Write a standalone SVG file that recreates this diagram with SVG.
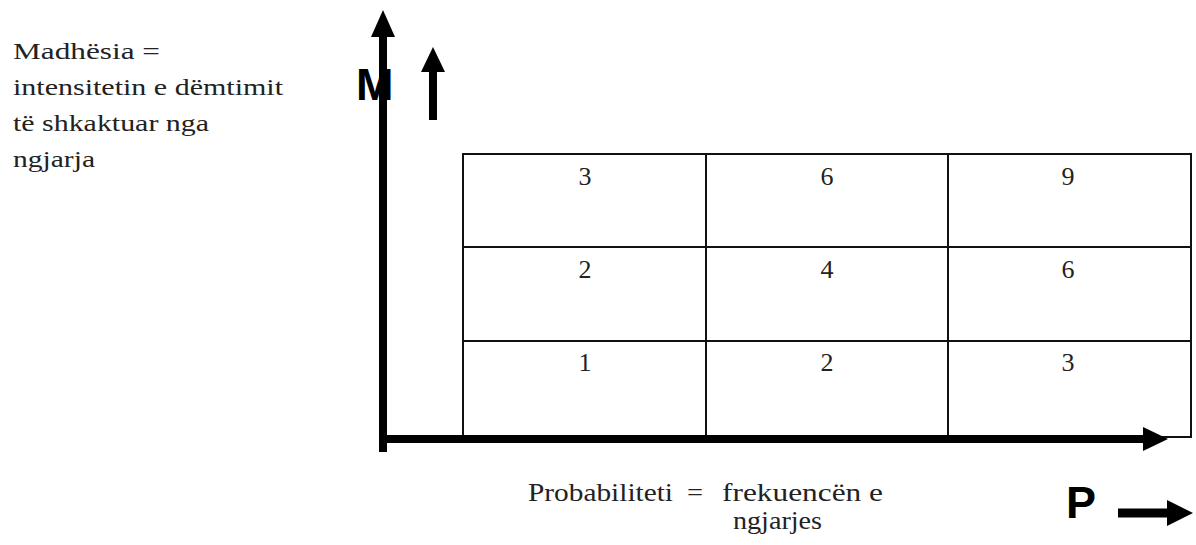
<svg xmlns="http://www.w3.org/2000/svg" width="1196" height="545" viewBox="0 0 1196 545">
<style>
.t{font-family:"Liberation Serif","Times New Roman",serif;fill:#222}
.lbl{font-size:24px}
.pl{font-size:25px}
.num{font-size:26px;text-anchor:middle}
.big{font-family:"Liberation Sans",Arial,sans-serif;font-weight:bold;font-size:45px;fill:#000}
.grid{fill:none;stroke:#111;stroke-width:2}
.ax{stroke:#000;fill:none}
.hd{fill:#000}
</style>
<rect width="1196" height="545" fill="#fff"/>
<g id="magnitude-label">
<text class="t lbl" x="13" y="59" textLength="147" lengthAdjust="spacingAndGlyphs">Madhësia =</text>
<text class="t lbl" x="13" y="95" textLength="270" lengthAdjust="spacingAndGlyphs">intensitetin e dëmtimit</text>
<text class="t lbl" x="13" y="131" textLength="196" lengthAdjust="spacingAndGlyphs">të shkaktuar nga</text>
<text class="t lbl" x="13" y="167" textLength="82" lengthAdjust="spacingAndGlyphs">ngjarja</text>
</g>
<g id="probability-label">
<text class="t pl" x="528" y="501" textLength="145" lengthAdjust="spacingAndGlyphs">Probabiliteti</text>
<text class="t pl" x="687" y="501" textLength="16" lengthAdjust="spacingAndGlyphs">=</text>
<text class="t pl" x="722" y="501" textLength="161" lengthAdjust="spacingAndGlyphs">frekuencën e</text>
<text class="t pl" x="733" y="529" textLength="89" lengthAdjust="spacingAndGlyphs">ngjarjes</text>
</g>
<g id="M-label"><text class="big" x="356" y="100">M</text></g>
<g id="P-label"><text class="big" x="1066" y="518">P</text></g>
<g id="matrix">
<rect class="grid" x="463" y="154" width="728" height="283"/>
<line class="grid" x1="706" y1="154" x2="706" y2="437"/>
<line class="grid" x1="948" y1="154" x2="948" y2="437"/>
<line class="grid" x1="463" y1="247" x2="1191" y2="247"/>
<line class="grid" x1="463" y1="341" x2="1191" y2="341"/>
<text class="t num" x="585" y="185">3</text>
<text class="t num" x="827" y="185">6</text>
<text class="t num" x="1068" y="185">9</text>
<text class="t num" x="585" y="278">2</text>
<text class="t num" x="827" y="278">4</text>
<text class="t num" x="1068" y="278">6</text>
<text class="t num" x="585" y="371">1</text>
<text class="t num" x="827" y="371">2</text>
<text class="t num" x="1068" y="371">3</text>
</g>
<g id="connectors">
<line class="ax" x1="383" y1="452" x2="383" y2="33" stroke-width="8"/>
<polygon class="hd" points="371,37 383,10 395,37"/>
<line class="ax" x1="379" y1="439" x2="1146" y2="439" stroke-width="8"/>
<polygon class="hd" points="1143,427 1168,439 1143,451"/>
<line class="ax" x1="433" y1="120" x2="433" y2="70" stroke-width="8"/>
<polygon class="hd" points="421,72 433,47 445,72"/>
<line class="ax" x1="1118" y1="513" x2="1170" y2="513" stroke-width="9"/>
<polygon class="hd" points="1167,500 1193,513 1167,526"/>
</g>
</svg>
